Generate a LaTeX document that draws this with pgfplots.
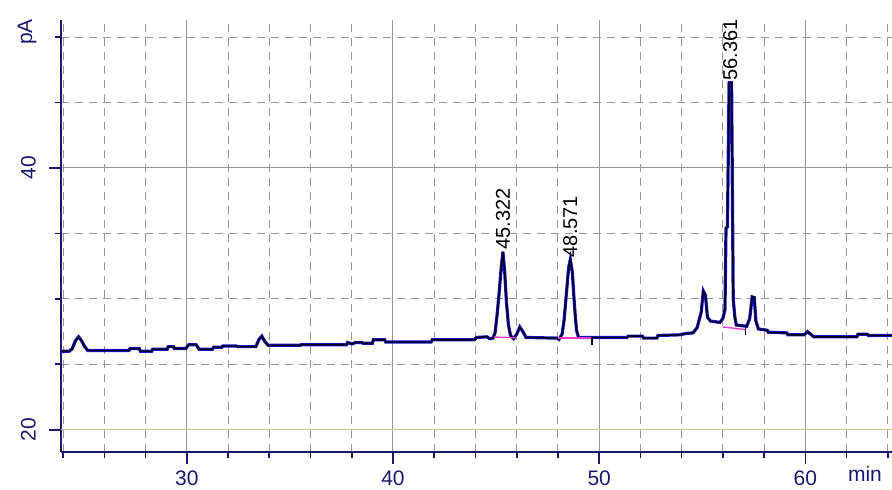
\documentclass[border=0pt]{standalone}
\usepackage{pgfplots}
\pgfplotsset{compat=1.18}
\usepackage{fontspec}
\setmainfont{Liberation Sans}
\definecolor{navy}{RGB}{25,25,110}
\definecolor{trace}{RGB}{20,20,215}
\definecolor{beige}{RGB}{205,200,160}
\definecolor{gridc}{RGB}{150,150,150}
\definecolor{integ}{RGB}{230,60,200}
\pgfplotstableread{
x y
23.9 26.0
24.3 26.0
24.45 26.2
24.6 26.8
24.75 27.1
24.9 26.8
25.05 26.35
25.2 26.05
27.2 26.05
27.25 26.2
27.7 26.2
27.75 26.0
28.3 26.0
28.35 26.15
29.05 26.15
29.1 26.35
29.35 26.35
29.4 26.2
29.95 26.2
30.1 26.5
30.45 26.5
30.6 26.15
31.25 26.15
31.3 26.3
31.7 26.3
31.75 26.4
32.4 26.4
32.45 26.35
33.35 26.35
33.5 26.9
33.64 27.15
33.8 26.7
33.95 26.45
35.5 26.45
35.55 26.5
37.75 26.5
37.8 26.67
38.0 26.55
38.2 26.67
38.5 26.67
38.55 26.6
39.0 26.6
39.05 26.87
39.6 26.87
39.65 26.7
41.85 26.7
41.9 26.87
43.95 26.87
44.05 27.05
44.55 27.1
44.7 26.95
44.85 27.0
44.95 27.4
45.05 28.8
45.15 30.5
45.25 32.4
45.33 33.6
45.42 32.0
45.5 29.8
45.6 28.0
45.7 27.2
45.85 26.95
46.0 27.3
46.15 27.85
46.3 27.5
46.45 27.05
47.95 27.0
48.05 26.9
48.2 27.3
48.3 28.4
48.42 30.6
48.52 32.4
48.6 33.0
48.7 32.0
48.8 29.5
48.9 27.6
49.0 27.05
50.0 27.05
51.35 27.05
51.4 27.15
52.1 27.15
52.15 27.0
52.8 27.0
52.85 27.2
53.9 27.25
54.2 27.35
54.55 27.4
54.75 27.8
54.95 29.0
55.05 30.6
55.15 30.3
55.25 28.6
55.4 28.3
55.85 28.2
56.0 28.5
56.1 29.2
56.15 35.4
56.22 35.5
56.3 46.5
56.42 46.5
56.5 30.0
56.58 28.6
56.65 28.0
57.15 27.9
57.3 28.5
57.42 30.15
57.52 30.1
57.6 28.3
57.72 27.7
58.15 27.6
58.2 27.45
59.1 27.4
59.15 27.25
59.95 27.25
60.1 27.5
60.25 27.3
60.4 27.1
62.5 27.1
62.55 27.3
63.0 27.3
63.05 27.2
64.2 27.2
}\signal
\begin{document}
\begin{tikzpicture}
\begin{axis}[
  scale only axis, width=415.5pt, height=216pt,
  xmin=23.9, xmax=64.2, ymin=18.3, ymax=51.3,
  axis x line*=bottom, axis y line*=left,
  axis line style={navy, line width=1pt},
  xtick={30,40,50,60},
  minor xtick={24,26,28,32,34,36,38,42,44,46,48,52,54,56,58,62,64},
  ytick={20,40}, minor ytick={25,30,35,45,50},
  grid=both,
  major grid style={gridc, line width=0.5pt},
  minor grid style={gridc, line width=0.5pt, dash pattern=on 4pt off 3pt},
  tick align=outside, major tick length=6pt, minor tick length=3pt,
  tick style={navy, line width=0.8pt},
  /pgf/number format/assume math mode=true,
  ticklabel style={font=\fontsize{10.5}{12}\selectfont, text=navy},
  yticklabel style={xshift=-3pt, rotate=90, anchor=south},
  clip=false,
]
\addplot[beige, line width=0.6pt, forget plot] coordinates {(23.9,20) (64.2,20)};
\addplot[trace, line width=1.6pt] table[x=x,y=y] {\signal};
\addplot[black, line width=0.7pt] table[x=x,y=y] {\signal};
\addplot[integ, line width=0.7pt] coordinates {(44.9,27.08) (46.0,27.03)};
\addplot[integ, line width=0.7pt] coordinates {(48.0,27.0) (49.6,27.0)};
\addplot[integ, line width=0.7pt] coordinates {(56.0,27.85) (57.1,27.65)};
\addplot[black, line width=0.6pt] coordinates {(49.65,27.1) (49.65,26.5)};
\addplot[black, line width=0.6pt] coordinates {(57.1,27.8) (57.1,27.2)};
\node[rotate=90, anchor=west, inner sep=1pt, font=\fontsize{10}{12}\selectfont] at (axis cs:45.33,33.6) {45.322};
\node[rotate=90, anchor=west, inner sep=1pt, font=\fontsize{10}{12}\selectfont] at (axis cs:48.6,33.0) {48.571};
\node[rotate=90, anchor=west, inner sep=1pt, font=\fontsize{10}{12}\selectfont] at (axis cs:56.36,46.5) {56.361};
\node[xshift=-17pt, yshift=-6pt, rotate=90, text=navy, font=\fontsize{10.5}{12}\selectfont] at (rel axis cs:0,1) {pA};
\node[xshift=-13.5pt, yshift=-11pt, text=navy, font=\fontsize{10.5}{12}\selectfont] at (rel axis cs:1,0) {min};
\end{axis}
\pgfresetboundingbox
\path ([xshift=-30.5pt,yshift=-18.5pt]current axis.south west) rectangle ([yshift=10pt]current axis.north east);
\end{tikzpicture}
\end{document}
